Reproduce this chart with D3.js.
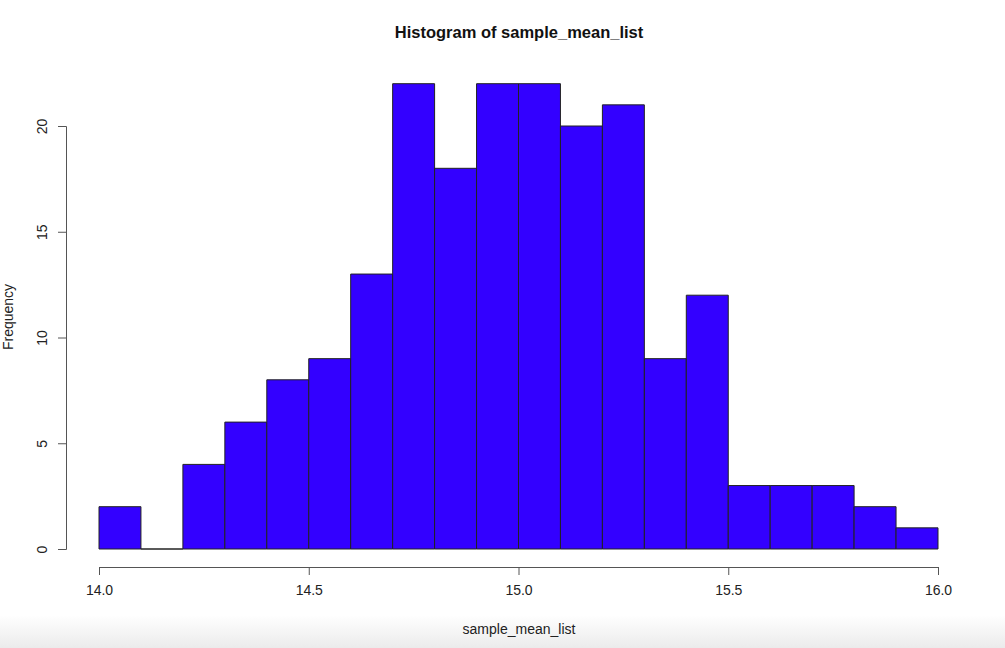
<!DOCTYPE html>
<html><head><meta charset="utf-8">
<script src="https://cdn.jsdelivr.net/npm/d3@7"></script>
<style>body{margin:0;background:#fff;overflow:hidden}svg{display:block}text{font-family:"Liberation Sans",Arial,sans-serif}</style>
</head><body>
<script>
const binStarts = [14.0,14.1,14.2,14.3,14.4,14.5,14.6,14.7,14.8,14.9,15.0,15.1,15.2,15.3,15.4,15.5,15.6,15.7,15.8,15.9];
const counts = [2,0,4,6,8,9,13,22,18,22,22,20,21,9,12,3,3,3,2,1];
const binWidth = 0.1;
const xTicks = [14.0,14.5,15.0,15.5,16.0];
const yTicks = [0,5,10,15,20];

const W=1005,H=648;
const svg=d3.select("body").append("svg").attr("width",W).attr("height",H);
const defs=svg.append("defs");
const g=defs.append("linearGradient").attr("id","sh").attr("x1",0).attr("y1",0).attr("x2",0).attr("y2",1);
g.append("stop").attr("offset","0").attr("stop-color","#fff");
g.append("stop").attr("offset","1").attr("stop-color","#ebebeb");
svg.append("rect").attr("x",0).attr("y",615).attr("width",W).attr("height",33).attr("fill","url(#sh)");

const x=d3.scaleLinear().domain([14,16]).range([99,938]);
const y=d3.scaleLinear().domain([0,20]).range([549,126]);

svg.append("g").selectAll("path").data(counts).join("path")
 .attr("d",(d,i)=>{
   const x0=x(binStarts[i]), x1=x(binStarts[i]+binWidth), y0=y(0), y1=y(d);
   return `M${x0},${y0}L${x0},${y1}L${x1},${y1}L${x1},${y0}Z`;
 })
 .attr("fill","#3300ff").attr("stroke","#222").attr("stroke-width",1);

const xa=svg.append("g").attr("transform","translate(0,567)")
 .call(d3.axisBottom(x).tickValues(xTicks).tickFormat(d3.format(".1f")).tickSizeOuter(0).tickSize(8).tickPadding(10));
xa.select(".domain").attr("stroke","#555");
xa.selectAll("line").attr("stroke","#555");
xa.selectAll("text").attr("font-size","14px").attr("fill","#222");

const ya=svg.append("g").attr("transform","translate(66,0)")
 .call(d3.axisLeft(y).tickValues(yTicks).tickSizeOuter(0).tickSize(8));
ya.select(".domain").attr("stroke","#555");
ya.selectAll("line").attr("stroke","#555");
ya.selectAll("text").attr("font-size","14px").attr("fill","#222")
 .attr("x",0).attr("y",0).attr("dy",null).attr("text-anchor","middle")
 .attr("transform","translate(-19,0) rotate(-90)");

svg.append("text").attr("x",519).attr("y",38).attr("text-anchor","middle")
 .attr("font-size","16.5px").attr("font-weight","bold").attr("fill","#111").text("Histogram of sample_mean_list");
svg.append("text").attr("x",519).attr("y",634).attr("text-anchor","middle")
 .attr("font-size","14px").attr("fill","#222").text("sample_mean_list");
svg.append("text").attr("transform","translate(13,317) rotate(-90)").attr("text-anchor","middle")
 .attr("font-size","14px").attr("fill","#222").text("Frequency");
</script>
</body></html>
